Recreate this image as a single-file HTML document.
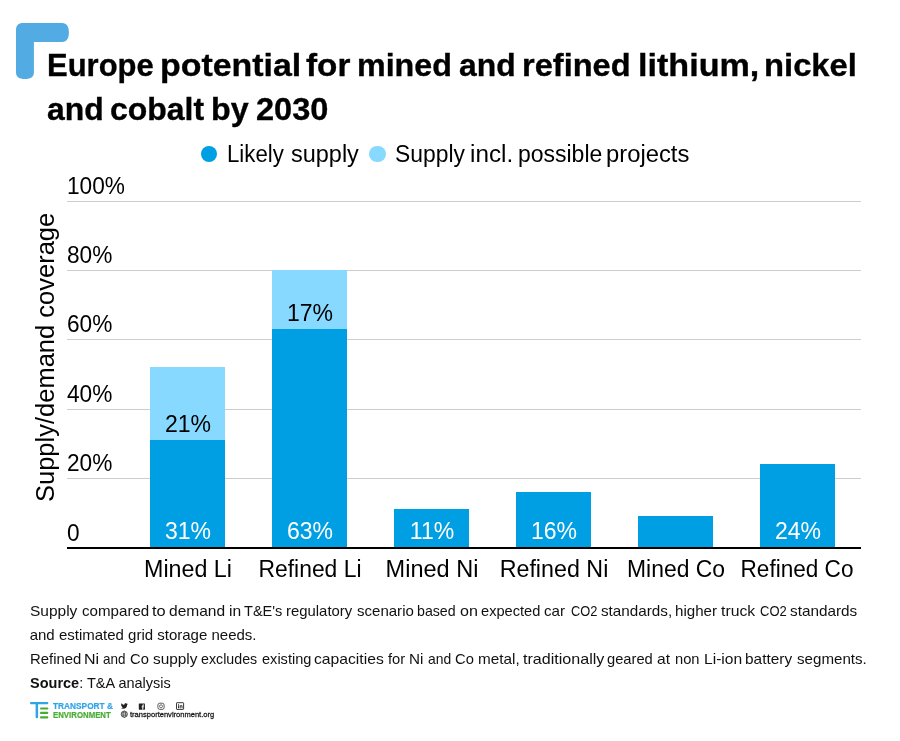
<!DOCTYPE html>
<html lang="en">
<head>
<meta charset="utf-8">
<title>Europe potential for mined and refined lithium, nickel and cobalt by 2030</title>
<style>
html,body{margin:0;padding:0;background:#fff;}
body{width:900px;height:741px;position:relative;overflow:hidden;font-family:"Liberation Sans",sans-serif;color:#000;}
.t{position:absolute;white-space:nowrap;line-height:1;transform-origin:0 0;margin:0;}
.c{position:absolute;white-space:nowrap;line-height:1;transform-origin:50% 0;text-align:center;}
.grid{position:absolute;left:67px;width:794px;height:1px;background:#cdcdcd;}
.bar{position:absolute;width:75px;background:#009ee2;}
.lt{background:#88d9ff;}
.h1{font-weight:bold;font-size:32px;-webkit-text-stroke:.35px #000;}
.lg{font-size:23px;}
.yl{font-size:23px;transform:scaleX(.985);}
.vl{font-size:23.5px;width:120px;transform:scaleX(.98);}
.xl{font-size:23px;width:160px;}
.ft{font-size:15px;color:#111;}
</style>
</head>
<body>
<!-- corner mark -->
<svg style="position:absolute;left:0;top:0" width="80" height="90" viewBox="0 0 80 90">
<path d="M23 22.9 H62 C67 22.9 68.9 27 68.9 32.4 C68.9 37.8 67 41.9 62 41.9 H33.9 V72.5 C33.9 77 30.5 79 25 79 C19.500 79 16 77 16 72.5 V29.9 C16 25.500 18.600 22.9 23 22.9 Z" fill="#52abe2"/>
</svg>

<h1 class="h1" style="margin:0"><span class="t" style="left:47.21px;top:48.8px;transform:scaleX(0.9678)">Europe</span> <span class="t" style="left:160.41px;top:48.8px;transform:scaleX(1.0593)">potential</span> <span class="t" style="left:306.13px;top:48.8px;transform:scaleX(1.0392)">for</span> <span class="t" style="left:357.23px;top:48.8px;transform:scaleX(1.0067)">mined</span> <span class="t" style="left:458.96px;top:48.8px;transform:scaleX(0.9945)">and</span> <span class="t" style="left:521.8px;top:48.8px;transform:scaleX(1.0177)">refined</span> <span class="t" style="left:637.59px;top:48.8px;transform:scaleX(1.066)">lithium,</span> <span class="t" style="left:764.49px;top:48.8px;transform:scaleX(1.0242)">nickel</span>
<span class="t" style="left:47.26px;top:92.6px;transform:scaleX(0.9964)">and</span> <span class="t" style="left:110.4px;top:92.6px;transform:scaleX(0.9985)">cobalt</span> <span class="t" style="left:211.13px;top:92.6px;transform:scaleX(1.0068)">by</span> <span class="t" style="left:255.55px;top:92.6px;transform:scaleX(1.0177)">2030</span></h1>

<!-- legend -->
<div style="position:absolute;left:200.7px;top:145.7px;width:16.6px;height:16.6px;border-radius:50%;background:#009ee2"></div>
<div class="lg" id="lg1"><span class="t" style="left:227.47px;top:142.7px;transform:scaleX(0.966)">Likely</span> <span class="t" style="left:290.66px;top:142.7px;transform:scaleX(1.0207)">supply</span></div>
<div style="position:absolute;left:369.3px;top:145.7px;width:16.6px;height:16.6px;border-radius:50%;background:#88d9ff"></div>
<div class="lg" id="lg2"><span class="t" style="left:394.52px;top:142.7px;transform:scaleX(0.9944)">Supply</span> <span class="t" style="left:470.38px;top:142.7px;transform:scaleX(1.0555)">incl.</span> <span class="t" style="left:517.68px;top:142.7px;transform:scaleX(0.9987)">possible</span> <span class="t" style="left:606.12px;top:142.7px;transform:scaleX(1.0351)">projects</span></div>

<!-- y axis title -->
<div class="t" id="yt" style="left:32.5px;top:501.5px;font-size:25.5px;transform:rotate(-90deg);">Supply/demand coverage</div>

<!-- grid -->
<div class="grid" style="top:201px"></div>
<div class="grid" style="top:270px"></div>
<div class="grid" style="top:339px"></div>
<div class="grid" style="top:409px"></div>
<div class="grid" style="top:478px"></div>

<!-- y ticks -->
<div class="t yl" style="left:66.5px;top:175.1px;">100%</div>
<div class="t yl" style="left:66.5px;top:244.1px;">80%</div>
<div class="t yl" style="left:66.5px;top:313.1px;">60%</div>
<div class="t yl" style="left:66.5px;top:383.1px;">40%</div>
<div class="t yl" style="left:66.5px;top:452.1px;">20%</div>
<div class="t yl" style="left:66.5px;top:521.5px;">0</div>

<!-- bars -->
<div class="bar lt" style="left:150px;top:367px;height:73px"></div>
<div class="bar" style="left:150px;top:440px;height:107px"></div>
<div class="bar lt" style="left:272px;top:270px;height:59px"></div>
<div class="bar" style="left:272px;top:329px;height:218px"></div>
<div class="bar" style="left:394px;top:509px;height:38px"></div>
<div class="bar" style="left:516px;top:492px;height:55px"></div>
<div class="bar" style="left:638px;top:516px;height:31px"></div>
<div class="bar" style="left:760px;top:464px;height:83px"></div>

<!-- axis line -->
<div style="position:absolute;left:67px;top:547px;width:794px;height:2px;background:#000"></div>

<!-- value labels -->
<div class="c vl" style="left:127.5px;top:412.8px;">21%</div>
<div class="c vl" style="left:249.5px;top:301.8px;">17%</div>
<div class="c vl" style="left:127.5px;top:519.5px;color:#fff">31%</div>
<div class="c vl" style="left:249.5px;top:519.5px;color:#fff">63%</div>
<div class="c vl" style="left:371.5px;top:519.5px;color:#fff">11%</div>
<div class="c vl" style="left:493.5px;top:519.5px;color:#fff">16%</div>
<div class="c vl" style="left:737.5px;top:519.5px;color:#fff">24%</div>

<!-- x labels -->
<div class="c xl" style="left:108px;top:557.5px;transform:scaleX(1.012)">Mined Li</div>
<div class="c xl" style="left:230px;top:557.5px;transform:scaleX(.994)">Refined Li</div>
<div class="c xl" style="left:351.7px;top:557.5px;transform:scaleX(1.023)">Mined Ni</div>
<div class="c xl" style="left:473.7px;top:557.5px;transform:scaleX(1.012)">Refined Ni</div>
<div class="c xl" style="left:595.8px;top:557.5px;transform:scaleX(.995)">Mined Co</div>
<div class="c xl" style="left:717.4px;top:557.5px;transform:scaleX(.981)">Refined Co</div>

<!-- notes -->
<div class="ft" id="n1"><span class="t" style="left:29.73px;top:603.4px;transform:scaleX(1.032)">Supply</span> <span class="t" style="left:81.59px;top:603.4px;transform:scaleX(1.0082)">compared</span> <span class="t" style="left:152.02px;top:603.4px;transform:scaleX(1.0919)">to</span> <span class="t" style="left:169.3px;top:603.4px;transform:scaleX(1.036)">demand</span> <span class="t" style="left:228.96px;top:603.4px;transform:scaleX(1.0404)">in</span> <span class="t" style="left:243.95px;top:603.4px;transform:scaleX(0.9706)">T&amp;E's</span> <span class="t" style="left:285.68px;top:603.4px;transform:scaleX(0.9926)">regulatory</span> <span class="t" style="left:356.68px;top:603.4px;transform:scaleX(1.0023)">scenario</span> <span class="t" style="left:417.35px;top:603.4px;transform:scaleX(0.9454)">based</span> <span class="t" style="left:459.96px;top:603.4px;transform:scaleX(1.0723)">on</span> <span class="t" style="left:481.01px;top:603.4px;transform:scaleX(0.9744)">expected</span> <span class="t" style="left:544.29px;top:603.4px;transform:scaleX(1.0109)">car</span> <span class="t" style="left:571.0px;top:603.4px;transform:scaleX(0.8565)">CO2</span> <span class="t" style="left:601.07px;top:603.4px;transform:scaleX(1.0157)">standards,</span> <span class="t" style="left:674.93px;top:603.4px;transform:scaleX(1.0066)">higher</span> <span class="t" style="left:721.43px;top:603.4px;transform:scaleX(1.0505)">truck</span> <span class="t" style="left:760.0px;top:603.4px;transform:scaleX(0.8668)">CO2</span> <span class="t" style="left:790.37px;top:603.4px;transform:scaleX(1.0204)">standards</span></div>
<div class="t ft" id="n2" style="left:29.7px;top:627px;">and estimated grid storage needs.</div>
<div class="ft" id="n3"><span class="t" style="left:29.75px;top:651.2px;transform:scaleX(0.9935)">Refined</span> <span class="t" style="left:84.36px;top:651.2px;transform:scaleX(1.0657)">Ni</span> <span class="t" style="left:103.38px;top:651.2px;transform:scaleX(0.8976)">and</span> <span class="t" style="left:130.2px;top:651.2px;transform:scaleX(0.9838)">Co</span> <span class="t" style="left:152.67px;top:651.2px;transform:scaleX(1.0251)">supply</span> <span class="t" style="left:201.03px;top:651.2px;transform:scaleX(0.9493)">excludes</span> <span class="t" style="left:261.61px;top:651.2px;transform:scaleX(0.9713)">existing</span> <span class="t" style="left:314.26px;top:651.2px;transform:scaleX(1.046)">capacities</span> <span class="t" style="left:388.07px;top:651.2px;transform:scaleX(0.9817)">for</span> <span class="t" style="left:409.43px;top:651.2px;transform:scaleX(1.0149)">Ni</span> <span class="t" style="left:427.66px;top:651.2px;transform:scaleX(0.9275)">and</span> <span class="t" style="left:455.2px;top:651.2px;transform:scaleX(0.9838)">Co</span> <span class="t" style="left:477.93px;top:651.2px;transform:scaleX(1.0207)">metal,</span> <span class="t" style="left:523.03px;top:651.2px;transform:scaleX(1.0722)">traditionally</span> <span class="t" style="left:607.03px;top:651.2px;transform:scaleX(0.9801)">geared</span> <span class="t" style="left:656.58px;top:651.2px;transform:scaleX(1.0383)">at</span> <span class="t" style="left:674.67px;top:651.2px;transform:scaleX(0.9793)">non</span> <span class="t" style="left:703.7px;top:651.2px;transform:scaleX(1.0391)">Li-ion</span> <span class="t" style="left:744.97px;top:651.2px;transform:scaleX(1.0266)">battery</span> <span class="t" style="left:796.68px;top:651.2px;transform:scaleX(1.0081)">segments.</span></div>
<div class="t ft" id="n4" style="left:29.7px;top:675.2px;transform:scaleX(.967)"><b>Source</b>: T&amp;A analysis</div>

<!-- logo -->
<svg style="position:absolute;left:28px;top:699px" width="24" height="22" viewBox="28 699 24 22">
<rect x="30" y="702" width="18.3" height="2.2" rx="1" fill="#2fa4e7"/>
<rect x="35.6" y="702" width="2.5" height="16.3" rx="1" fill="#2fa4e7"/>
<rect x="40" y="707.4" width="8.3" height="2.2" rx="1" fill="#46ac34"/>
<rect x="40" y="711.8" width="8.3" height="2.2" rx="1" fill="#46ac34"/>
<rect x="40" y="716.2" width="8.3" height="2.2" rx="1" fill="#46ac34"/>
</svg>
<div class="t" id="lo1" style="left:52.8px;top:702px;font-size:9px;font-weight:bold;color:#2fa4e7;-webkit-text-stroke:.2px #2fa4e7;transform:scaleX(.923)">TRANSPORT &amp;</div>
<div class="t" id="lo2" style="left:52.8px;top:711px;font-size:9px;font-weight:bold;color:#46ac34;-webkit-text-stroke:.2px #46ac34;transform:scaleX(.869)">ENVIRONMENT</div>
<div class="t" id="lo3" style="left:129.7px;top:710.6px;font-size:8px;font-weight:normal;color:#1a1a1a;-webkit-text-stroke:.3px #1a1a1a;transform:scaleX(.942)">transportenvironment.org</div>
<!-- social icons -->
<svg style="position:absolute;left:118px;top:700px" width="70" height="20" viewBox="118 700 70 20">
<!-- twitter -->
<path d="M121 708.2c2.6 1.4 5.9 .2 6.1-3.3l.8-.9-.9.2.6-.9-1 .4c-1-.9-2.5-.2-2.3 1.100-1.300 0-2.300-.6-3-1.500-.4.800-.1 1.600.5 2l-.7-.2c0 .8.600 1.400 1.300 1.600h-.7c.2.600.800 1 1.500 1-.6.400-1.400.600-2.200.500z" fill="#222"/>
<!-- facebook -->
<rect x="138.800" y="703.500" width="6.200" height="6.200" rx=".6" fill="#222"/>
<path d="M142.300 709.700v-2.400h-.8v-.9h.8v-.7c0-.8.500-1.200 1.200-1.200h.7v.9h-.5c-.3 0-.4.200-.4.400v.6h.9l-.1.900h-.8v2.400z" fill="#fff"/>
<!-- instagram -->
<rect x="157.900" y="703.200" width="6.200" height="6.200" rx="1.900" fill="none" stroke="#333" stroke-width=".8"/>
<circle cx="161" cy="706.300" r="1.500" fill="none" stroke="#333" stroke-width=".7"/>
<!-- linkedin -->
<rect x="176.500" y="702.700" width="7.100" height="6.700" rx=".5" fill="none" stroke="#222" stroke-width=".9"/>
<path d="M178 705.300h.9v3h-.9zM178 704h.9v.8h-.9zM179.700 705.300h.9v.4c.5-.7 1.900-.6 1.900.7v1.900h-.9v-1.700c0-.7-1-.7-1 0v1.700h-.9z" fill="#222"/>
<!-- globe -->
<circle cx="124.300" cy="714.200" r="3.100" fill="none" stroke="#333" stroke-width=".8"/>
<ellipse cx="124.300" cy="714.200" rx="1.300" ry="3.100" fill="none" stroke="#333" stroke-width=".6"/>
<path d="M121.200 714.200h6.200M121.700 712.700h5.200M121.700 715.700h5.200" stroke="#333" stroke-width=".6" fill="none"/>
</svg>
</body>
</html>
